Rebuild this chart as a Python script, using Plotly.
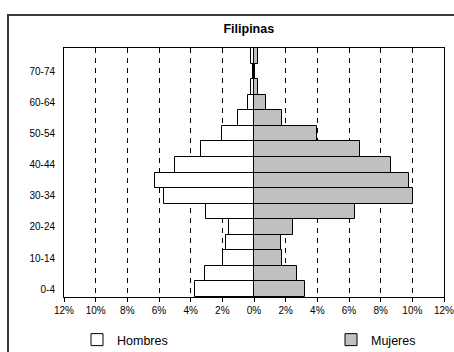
import plotly.graph_objects as go

# Age groups, youngest first
grupos = ["0-4", "5-9", "10-14", "15-19", "20-24", "25-29", "30-34", "35-39",
          "40-44", "45-49", "50-54", "55-59", "60-64", "65-69", "70-74", "75-79"]

# Share of total population (%)
hombres = [3.75, 3.12, 1.98, 1.75, 1.60, 3.05, 5.66, 6.27,
           4.97, 3.37, 2.00, 0.99, 0.36, 0.19, 0.05, 0.19]
mujeres = [3.22, 2.69, 1.79, 1.68, 2.46, 6.38, 10.06, 9.81,
           8.65, 6.67, 4.00, 1.79, 0.78, 0.25, 0.06, 0.25]

etiquetas_y = ["0-4", "10-14", "20-24", "30-34", "40-44", "50-54", "60-64", "70-74"]
ticks_x = [-12, -10, -8, -6, -4, -2, 0, 2, 4, 6, 8, 10, 12]
textos_x = [f"{abs(v)}%" for v in ticks_x]

fuente = "Liberation Sans, Arial, sans-serif"
ancho_area = 380   # plot area width in px
alto_area = 249    # plot area height in px

fig = go.Figure()
fig.add_trace(go.Bar(
    y=grupos, x=[-v for v in hombres], orientation="h", name="Hombres",
    marker=dict(color="white", line=dict(color="black", width=1)),
    customdata=hombres, legend="legend",
    hovertemplate="%{y}: %{customdata}%<extra>Hombres</extra>",
))
fig.add_trace(go.Bar(
    y=grupos, x=mujeres, orientation="h", name="Mujeres",
    marker=dict(color="#c0c0c0", line=dict(color="black", width=1)),
    legend="legend2",
    hovertemplate="%{y}: %{x}%<extra>Mujeres</extra>",
))

leyenda = dict(orientation="h", xanchor="left", yanchor="middle",
               y=-(340 - 297) / alto_area, font=dict(size=12.5, family=fuente),
               bgcolor="rgba(0,0,0,0)", itemwidth=30)

fig.update_layout(
    width=454, height=352,
    margin=dict(l=64, r=10, t=48, b=55, autoexpand=False),
    barmode="relative", bargap=0,
    paper_bgcolor="white", plot_bgcolor="white",
    font=dict(family=fuente, size=10, color="black"),
    title=dict(text="<b>Filipinas</b>", x=0.548, xanchor="center",
               y=1 - 29 / 352, yanchor="middle", yref="container",
               font=dict(size=12.5, family=fuente, color="black")),
    showlegend=True,
    legend=dict(leyenda, x=(77 - 64) / ancho_area),
    legend2=dict(leyenda, x=(331 - 64) / ancho_area),
    xaxis=dict(range=[-12, 12], tickvals=ticks_x, ticktext=textos_x,
               showgrid=True, gridcolor="black", gridwidth=1, griddash="5px,5px",
               zeroline=False, showline=True, linecolor="black", linewidth=1,
               mirror=True, ticks="outside", ticklen=4, tickcolor="black",
               ticklabeloverflow="allow", fixedrange=True, automargin=False),
    yaxis=dict(type="category", categoryorder="array", categoryarray=grupos,
               tickvals=etiquetas_y, showgrid=False, zeroline=False,
               showline=True, linecolor="black", linewidth=1, mirror=True,
               ticks="", ticklabelstandoff=6, fixedrange=True, automargin=False),
    shapes=[dict(type="rect", xref="paper", yref="paper",
                 x0=(8 - 64) / ancho_area, x1=1.2, y0=-0.6,
                 y1=1 + (48 - 15) / alto_area,
                 line=dict(color="#3a3a3a", width=2), fillcolor="rgba(0,0,0,0)",
                 layer="below")],
)

fig.write_html("out.html")
